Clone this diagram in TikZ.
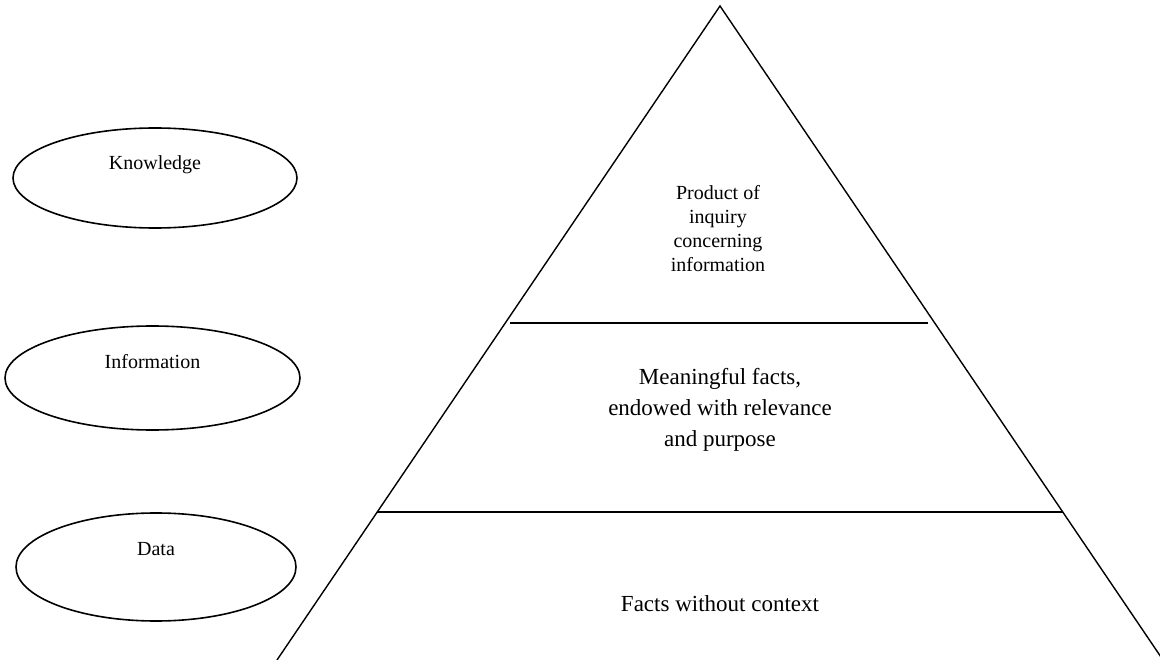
\documentclass[tikz,border=0pt]{standalone}
\usepackage{fontspec}
\setmainfont{Liberation Serif}
\usetikzlibrary{shapes.geometric}
\begin{document}
\begin{tikzpicture}[x=1pt,y=-1pt,
  oval/.style={draw,line width=1.6pt,ellipse,inner sep=0pt},
  edge/.style={line width=1.4pt},
  small/.style={font=\fontsize{20}{24}\selectfont,align=center},
  big/.style={font=\fontsize{23}{31}\selectfont,align=center}]
\useasboundingbox (0,0) rectangle (1160,660);
% ellipses
\node[oval,minimum width=284pt,minimum height=100pt] (k) at (155,178) {};
\node[oval,minimum width=295pt,minimum height=104pt] (i) at (152.5,378) {};
\node[oval,minimum width=280pt,minimum height=108pt] (d) at (156,567) {};
\node[small] (kt) at (155,165) {Knowledge};
\node[small] (it) at (152.5,362) {Information};
\node[small] (dt) at (156,549) {Data};
% pyramid
\coordinate (apex) at (720,6);
\coordinate (bl) at (277,660);
\coordinate (br) at (1163,660);
\draw[edge] (bl) -- (apex) -- (br);
\coordinate (u1) at (510,323);
\coordinate (u2) at (928,323);
\coordinate (l1) at (377,512);
\coordinate (l2) at (1063,512);
\draw[edge] (u1) -- (u2);
\draw[edge] (l1) -- (l2);
% texts
\node[small] (top) at (718,229) {Product of\\inquiry\\concerning\\information};
\node[big] (mid) at (720,410) {Meaningful facts,\\endowed with relevance\\and purpose};
\node[big] (bot) at (720,604) {Facts without context};
\end{tikzpicture}
\end{document}
